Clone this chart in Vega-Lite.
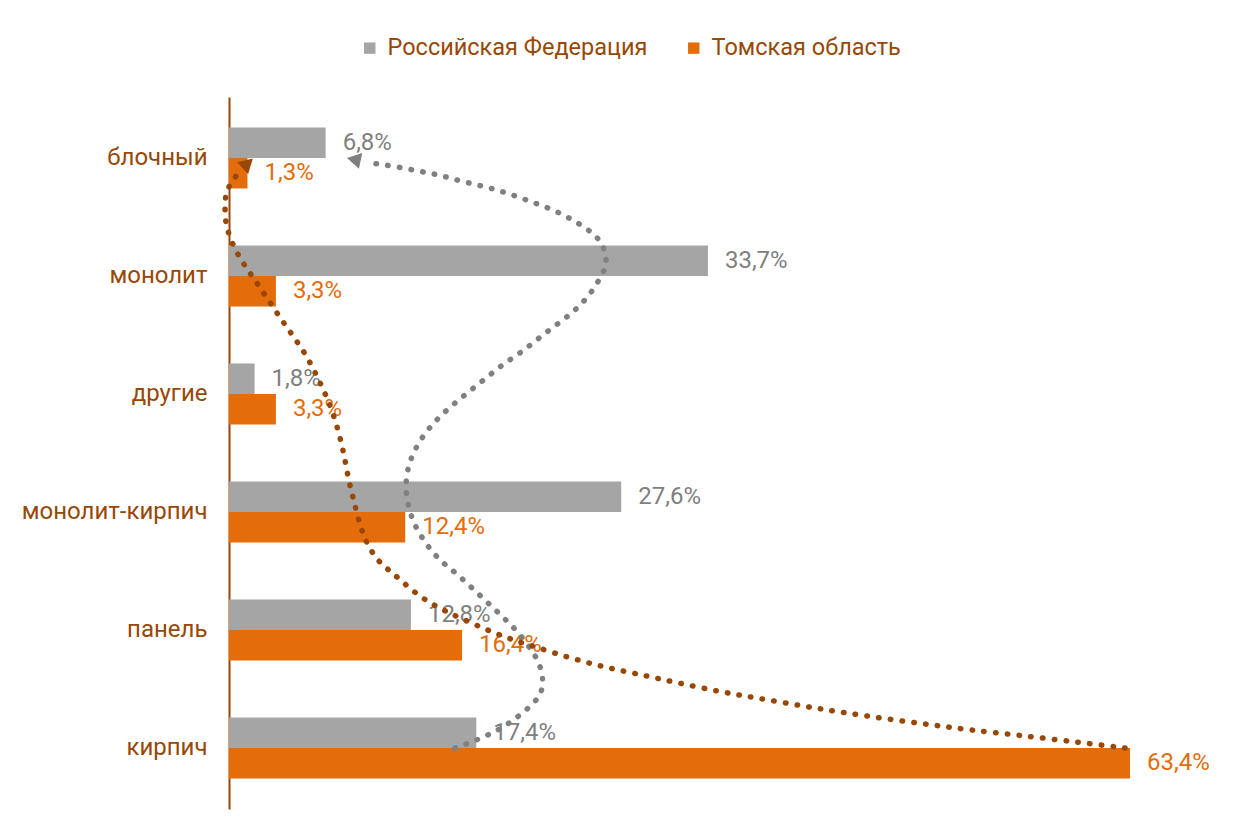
{
  "$schema": "https://vega.github.io/schema/vega-lite/v6.json",
  "width": 901,
  "height": 712,
  "autosize": {"type": "none"},
  "padding": {"left": 229, "top": 97, "right": 113, "bottom": 18},
  "background": "white",
  "config": {"view": {"stroke": null}, "font": "Roboto"},
  "datasets": {
    "bars": [
      {"type": "блочный", "series": "Российская Федерация", "value": 6.8},
      {"type": "блочный", "series": "Томская область", "value": 1.3},
      {"type": "монолит", "series": "Российская Федерация", "value": 33.7},
      {"type": "монолит", "series": "Томская область", "value": 3.3},
      {"type": "другие", "series": "Российская Федерация", "value": 1.8},
      {"type": "другие", "series": "Томская область", "value": 3.3},
      {"type": "монолит-кирпич", "series": "Российская Федерация", "value": 27.6},
      {"type": "монолит-кирпич", "series": "Томская область", "value": 12.4},
      {"type": "панель", "series": "Российская Федерация", "value": 12.8},
      {"type": "панель", "series": "Томская область", "value": 16.4},
      {"type": "кирпич", "series": "Российская Федерация", "value": 17.4},
      {"type": "кирпич", "series": "Томская область", "value": 63.4}
    ],
    "curves": [
      {"c": "brown", "i": 1, "x": 63.05, "pos": 5.0},
      {"c": "brown", "i": 2, "x": 59.68, "pos": 4.949},
      {"c": "brown", "i": 3, "x": 55.45, "pos": 4.89},
      {"c": "brown", "i": 4, "x": 52.15, "pos": 4.847},
      {"c": "brown", "i": 5, "x": 49.54, "pos": 4.805},
      {"c": "brown", "i": 6, "x": 46.31, "pos": 4.754},
      {"c": "brown", "i": 7, "x": 42.99, "pos": 4.695},
      {"c": "brown", "i": 8, "x": 40.39, "pos": 4.644},
      {"c": "brown", "i": 9, "x": 37.16, "pos": 4.576},
      {"c": "brown", "i": 10, "x": 34.62, "pos": 4.525},
      {"c": "brown", "i": 11, "x": 31.32, "pos": 4.441},
      {"c": "brown", "i": 12, "x": 28.78, "pos": 4.373},
      {"c": "brown", "i": 13, "x": 26.39, "pos": 4.314},
      {"c": "brown", "i": 14, "x": 24.0, "pos": 4.237},
      {"c": "brown", "i": 15, "x": 21.6, "pos": 4.144},
      {"c": "brown", "i": 16, "x": 19.99, "pos": 4.085},
      {"c": "brown", "i": 17, "x": 18.51, "pos": 4.017},
      {"c": "brown", "i": 18, "x": 16.89, "pos": 3.932},
      {"c": "brown", "i": 19, "x": 15.34, "pos": 3.847},
      {"c": "brown", "i": 20, "x": 14.0, "pos": 3.763},
      {"c": "brown", "i": 21, "x": 12.67, "pos": 3.644},
      {"c": "brown", "i": 22, "x": 11.54, "pos": 3.517},
      {"c": "brown", "i": 23, "x": 10.49, "pos": 3.424},
      {"c": "brown", "i": 24, "x": 9.57, "pos": 3.246},
      {"c": "brown", "i": 25, "x": 9.08, "pos": 3.051},
      {"c": "brown", "i": 26, "x": 8.73, "pos": 2.881},
      {"c": "brown", "i": 27, "x": 8.37, "pos": 2.703},
      {"c": "brown", "i": 28, "x": 8.09, "pos": 2.508},
      {"c": "brown", "i": 29, "x": 7.74, "pos": 2.331},
      {"c": "brown", "i": 30, "x": 7.25, "pos": 2.136},
      {"c": "brown", "i": 31, "x": 6.69, "pos": 1.975},
      {"c": "brown", "i": 32, "x": 6.05, "pos": 1.814},
      {"c": "brown", "i": 33, "x": 5.35, "pos": 1.653},
      {"c": "brown", "i": 34, "x": 4.5, "pos": 1.508},
      {"c": "brown", "i": 35, "x": 3.66, "pos": 1.364},
      {"c": "brown", "i": 36, "x": 2.81, "pos": 1.212},
      {"c": "brown", "i": 37, "x": 1.97, "pos": 1.059},
      {"c": "brown", "i": 38, "x": 1.06, "pos": 0.907},
      {"c": "brown", "i": 39, "x": 0.28, "pos": 0.746},
      {"c": "brown", "i": 40, "x": -0.21, "pos": 0.576},
      {"c": "brown", "i": 41, "x": -0.28, "pos": 0.475},
      {"c": "brown", "i": 42, "x": -0.28, "pos": 0.381},
      {"c": "brown", "i": 43, "x": -0.21, "pos": 0.28},
      {"c": "brown", "i": 44, "x": 0.21, "pos": 0.203},
      {"c": "brown", "i": 45, "x": 0.77, "pos": 0.102},
      {"c": "gray", "i": 1, "x": 15.9, "pos": 5.0},
      {"c": "gray", "i": 2, "x": 17.45, "pos": 4.932},
      {"c": "gray", "i": 3, "x": 19.0, "pos": 4.847},
      {"c": "gray", "i": 4, "x": 20.34, "pos": 4.737},
      {"c": "gray", "i": 5, "x": 21.46, "pos": 4.619},
      {"c": "gray", "i": 6, "x": 21.96, "pos": 4.542},
      {"c": "gray", "i": 7, "x": 22.1, "pos": 4.449},
      {"c": "gray", "i": 8, "x": 22.03, "pos": 4.356},
      {"c": "gray", "i": 9, "x": 21.75, "pos": 4.263},
      {"c": "gray", "i": 10, "x": 21.39, "pos": 4.186},
      {"c": "gray", "i": 11, "x": 20.48, "pos": 4.034},
      {"c": "gray", "i": 12, "x": 19.35, "pos": 3.898},
      {"c": "gray", "i": 13, "x": 18.23, "pos": 3.771},
      {"c": "gray", "i": 14, "x": 17.03, "pos": 3.636},
      {"c": "gray", "i": 15, "x": 15.9, "pos": 3.508},
      {"c": "gray", "i": 16, "x": 14.85, "pos": 3.415},
      {"c": "gray", "i": 17, "x": 13.86, "pos": 3.271},
      {"c": "gray", "i": 18, "x": 13.02, "pos": 3.11},
      {"c": "gray", "i": 19, "x": 12.53, "pos": 2.924},
      {"c": "gray", "i": 20, "x": 12.39, "pos": 2.737},
      {"c": "gray", "i": 21, "x": 12.74, "pos": 2.551},
      {"c": "gray", "i": 22, "x": 13.44, "pos": 2.39},
      {"c": "gray", "i": 23, "x": 14.36, "pos": 2.246},
      {"c": "gray", "i": 24, "x": 15.48, "pos": 2.119},
      {"c": "gray", "i": 25, "x": 16.75, "pos": 1.992},
      {"c": "gray", "i": 26, "x": 18.02, "pos": 1.873},
      {"c": "gray", "i": 27, "x": 19.28, "pos": 1.746},
      {"c": "gray", "i": 28, "x": 20.62, "pos": 1.644},
      {"c": "gray", "i": 29, "x": 21.89, "pos": 1.517},
      {"c": "gray", "i": 30, "x": 23.22, "pos": 1.398},
      {"c": "gray", "i": 31, "x": 24.49, "pos": 1.28},
      {"c": "gray", "i": 32, "x": 25.55, "pos": 1.136},
      {"c": "gray", "i": 33, "x": 26.32, "pos": 0.975},
      {"c": "gray", "i": 34, "x": 26.6, "pos": 0.89},
      {"c": "gray", "i": 35, "x": 26.46, "pos": 0.805},
      {"c": "gray", "i": 36, "x": 26.25, "pos": 0.72},
      {"c": "gray", "i": 37, "x": 25.62, "pos": 0.636},
      {"c": "gray", "i": 38, "x": 24.35, "pos": 0.534},
      {"c": "gray", "i": 39, "x": 22.87, "pos": 0.441},
      {"c": "gray", "i": 40, "x": 21.32, "pos": 0.373},
      {"c": "gray", "i": 41, "x": 19.77, "pos": 0.305},
      {"c": "gray", "i": 42, "x": 18.16, "pos": 0.246},
      {"c": "gray", "i": 43, "x": 16.47, "pos": 0.203},
      {"c": "gray", "i": 44, "x": 14.85, "pos": 0.144},
      {"c": "gray", "i": 45, "x": 13.23, "pos": 0.11},
      {"c": "gray", "i": 46, "x": 11.54, "pos": 0.068},
      {"c": "gray", "i": 47, "x": 9.92, "pos": 0.042}
    ],
    "arrows": [
      {"c": "brown", "x": 1.2, "pos": 0.059},
      {"c": "gray", "x": 8.94, "pos": 0.017}
    ]
  },
  "layer": [
    {
      "data": {"name": "bars"},
      "transform": [
        {"calculate": "replace(format(datum.value, '.1f'), '.', ',') + '%'", "as": "label"}
      ],
      "encoding": {
        "y": {
          "field": "type",
          "type": "nominal",
          "sort": ["блочный", "монолит", "другие", "монолит-кирпич", "панель", "кирпич"],
          "scale": {"paddingInner": 0.483, "paddingOuter": 0.258},
          "axis": {
            "title": null,
            "ticks": false,
            "tickSize": 0,
            "domainColor": "#984806",
            "domainWidth": 2,
            "labelColor": "#984806",
            "labelFontSize": 24,
            "labelFont": "Roboto",
            "labelPadding": 22,
            "labelLimit": 300,
            "grid": false
          }
        },
        "yOffset": {
          "field": "series",
          "type": "nominal",
          "scale": {"domain": ["Российская Федерация", "Томская область"]}
        },
        "x": {
          "field": "value",
          "type": "quantitative",
          "scale": {"domain": [0, 63.4], "nice": false, "zero": true},
          "axis": null
        }
      },
      "layer": [
        {
          "mark": {"type": "bar"},
          "encoding": {
            "color": {
              "field": "series",
              "type": "nominal",
              "scale": {"domain": ["Российская Федерация", "Томская область"], "range": ["#A5A5A5", "#E46C0A"]},
              "legend": {
                "orient": "none",
                "legendX": 129,
                "legendY": -61,
                "direction": "horizontal",
                "title": null,
                "labelFontSize": 23.5,
                "labelFont": "Roboto",
                "labelColor": "#984806",
                "labelLimit": 400,
                "symbolType": "square",
                "symbolSize": 130,
                "symbolStrokeWidth": 0,
                "columnPadding": 34,
                "labelOffset": 6
              }
            }
          }
        },
        {
          "transform": [{"filter": "datum.series === 'Российская Федерация'"}],
          "mark": {"type": "text", "align": "left", "baseline": "middle", "dx": 17, "fontSize": 24, "font": "Roboto", "color": "#7F7F7F"},
          "encoding": {"text": {"field": "label"}}
        },
        {
          "transform": [{"filter": "datum.series === 'Томская область'"}],
          "mark": {"type": "text", "align": "left", "baseline": "middle", "dx": 17, "fontSize": 24, "font": "Roboto", "color": "#E46C0A"},
          "encoding": {"text": {"field": "label"}}
        }
      ]
    },
    {
      "encoding": {
        "x": {
          "field": "x",
          "type": "quantitative",
          "scale": {"domain": [0, 63.4], "nice": false, "zero": true},
          "axis": null
        },
        "y": {
          "field": "pos",
          "type": "quantitative",
          "scale": {"domain": [-0.5164, 5.5164], "reverse": true, "nice": false, "zero": false},
          "axis": null
        }
      },
      "layer": [
        {
          "data": {"name": "curves"},
          "transform": [{"filter": "datum.c === 'gray'"}],
          "mark": {"type": "line", "interpolate": "basis", "color": "#808080", "strokeWidth": 5.5, "strokeCap": "round", "strokeDash": [0.5, 11.3]},
          "encoding": {"order": {"field": "i", "type": "quantitative"}}
        },
        {
          "data": {"name": "curves"},
          "transform": [{"filter": "datum.c === 'brown'"}],
          "mark": {"type": "line", "interpolate": "basis", "color": "#984806", "strokeWidth": 5.5, "strokeCap": "round", "strokeDash": [0.5, 11.3]},
          "encoding": {"order": {"field": "i", "type": "quantitative"}}
        },
        {
          "data": {"name": "arrows"},
          "transform": [{"filter": "datum.c === 'gray'"}],
          "mark": {"type": "point", "shape": "triangle", "filled": true, "angle": 282, "size": 260, "color": "#808080", "opacity": 1}
        },
        {
          "data": {"name": "arrows"},
          "transform": [{"filter": "datum.c === 'brown'"}],
          "mark": {"type": "point", "shape": "triangle", "filled": true, "angle": 47, "size": 260, "color": "#984806", "opacity": 1}
        }
      ]
    }
  ],
  "resolve": {"scale": {"y": "independent"}}
}
